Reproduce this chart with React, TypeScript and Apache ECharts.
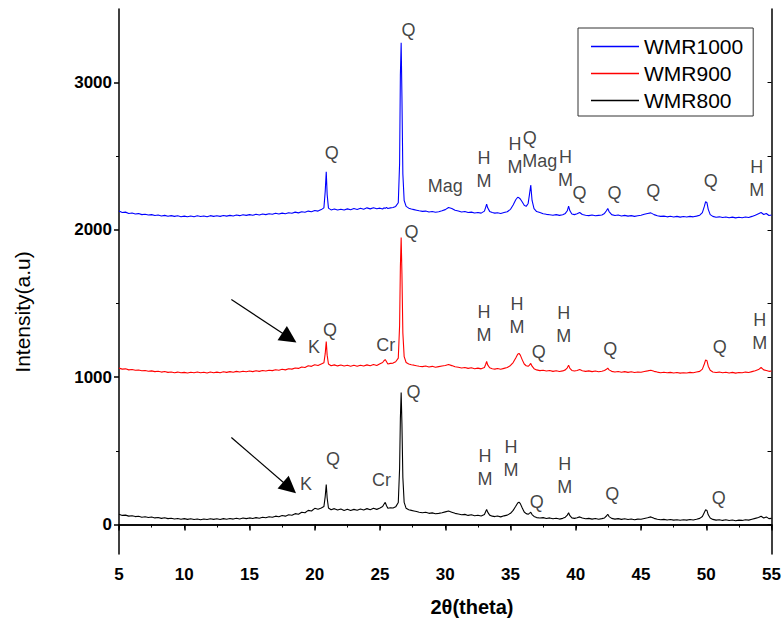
import React, { useEffect, useRef } from "react";
import * as echarts from "echarts";

const twoTheta = [
  5, 5.25, 5.5, 5.75, 6, 6.25, 6.5, 6.75, 7, 7.25,
  7.5, 7.75, 8, 8.25, 8.5, 8.75, 9, 9.25, 9.5, 9.75,
  10, 10.25, 10.5, 10.75, 11, 11.25, 11.5, 11.75, 12, 12.25,
  12.5, 12.75, 13, 13.25, 13.5, 13.75, 14, 14.25, 14.5, 14.75,
  15, 15.25, 15.5, 15.75, 16, 16.25, 16.5, 16.75, 17, 17.25,
  17.5, 17.75, 18, 18.25, 18.5, 18.75, 19, 19.25, 19.5, 19.75,
  20, 20.25, 20.5, 20.7, 20.8, 20.88, 20.95, 21.05, 21.25, 21.5,
  21.75, 22, 22.25, 22.5, 22.75, 23, 23.25, 23.5, 23.75, 24,
  24.25, 24.5, 24.75, 25, 25.2, 25.3, 25.4, 25.5, 25.6, 25.8,
  26, 26.2, 26.4, 26.5, 26.56, 26.62, 26.68, 26.75, 26.85, 27,
  27.2, 27.4, 27.6, 27.8, 28, 28.25, 28.5, 28.75, 29, 29.25,
  29.5, 29.75, 30, 30.25, 30.5, 30.75, 31, 31.25, 31.5, 31.75,
  32, 32.25, 32.5, 32.75, 33, 33.1, 33.17, 33.25, 33.4, 33.6,
  33.8, 34, 34.25, 34.5, 34.75, 35, 35.2, 35.4, 35.55, 35.65,
  35.75, 35.9, 36.05, 36.2, 36.35, 36.45, 36.55, 36.65, 36.8, 37,
  37.25, 37.5, 37.75, 38, 38.25, 38.5, 38.75, 39, 39.2, 39.35,
  39.45, 39.55, 39.7, 39.9, 40.1, 40.3, 40.5, 40.75, 41, 41.25,
  41.5, 41.75, 42, 42.2, 42.35, 42.45, 42.55, 42.75, 43, 43.25,
  43.5, 43.75, 44, 44.25, 44.5, 44.75, 45, 45.25, 45.5, 45.75,
  46, 46.25, 46.5, 46.75, 47, 47.25, 47.5, 47.75, 48, 48.25,
  48.5, 48.75, 49, 49.25, 49.5, 49.7, 49.85, 49.95, 50.05, 50.15,
  50.3, 50.5, 50.75, 51, 51.25, 51.5, 51.75, 52, 52.25, 52.5,
  52.75, 53, 53.25, 53.5, 53.75, 54, 54.2, 54.4, 54.6, 54.8,
  55,
];

const wmr1000 = [
  2128, 2118, 2121, 2112, 2115, 2108, 2111, 2104, 2107, 2101,
  2104, 2098, 2101, 2095, 2099, 2093, 2097, 2092, 2096, 2090,
  2094, 2089, 2095, 2090, 2096, 2091, 2095, 2090, 2097, 2092,
  2096, 2092, 2098, 2094, 2099, 2095, 2101, 2097, 2103, 2099,
  2104, 2100, 2106, 2102, 2108, 2104, 2110, 2106, 2113, 2108,
  2114, 2110, 2117, 2113, 2121, 2116, 2124, 2120, 2128, 2124,
  2132, 2128, 2138, 2150, 2260, 2395, 2240, 2148, 2136, 2142,
  2135, 2141, 2136, 2143, 2137, 2145, 2139, 2147, 2141, 2150,
  2143, 2151, 2144, 2148, 2142, 2150, 2146, 2153, 2145, 2150,
  2152, 2160, 2185, 2450, 3050, 3270, 2900, 2380, 2200, 2160,
  2148, 2142, 2138, 2134, 2130, 2126, 2128, 2122, 2125, 2120,
  2124, 2130, 2138, 2152, 2146, 2134, 2128, 2122, 2125, 2118,
  2121, 2115, 2119, 2114, 2128, 2155, 2175, 2150, 2126, 2118,
  2114, 2117, 2112, 2118, 2124, 2140, 2170, 2205, 2222, 2218,
  2210, 2190, 2168, 2160, 2180, 2240, 2305, 2200, 2145, 2125,
  2118, 2110, 2106, 2103, 2100, 2104, 2099, 2103, 2112, 2130,
  2162, 2130, 2108, 2104, 2110, 2118, 2105, 2100, 2097, 2101,
  2096, 2099, 2102, 2112, 2130, 2146, 2125, 2104, 2098, 2101,
  2095, 2099, 2094, 2097, 2092, 2096, 2100, 2106, 2112, 2116,
  2104, 2096, 2092, 2094, 2089, 2093, 2088, 2092, 2087, 2091,
  2088, 2092, 2089, 2094, 2100, 2118, 2160, 2192, 2185, 2140,
  2104, 2092, 2086, 2089, 2084, 2088, 2083, 2087, 2082, 2086,
  2083, 2088, 2085, 2092, 2100, 2110, 2118, 2105, 2112, 2098,
  2102,
];

const wmr900 = [
  1062, 1055, 1057, 1050, 1053, 1047, 1049, 1044, 1046, 1041,
  1043, 1038, 1041, 1035, 1039, 1033, 1036, 1031, 1035, 1030,
  1033, 1029, 1034, 1030, 1035, 1030, 1034, 1029, 1036, 1031,
  1035, 1031, 1037, 1033, 1038, 1034, 1040, 1036, 1041, 1037,
  1042, 1038, 1044, 1040, 1046, 1042, 1048, 1045, 1051, 1047,
  1054, 1050, 1058, 1055, 1063, 1060, 1070, 1066, 1078, 1074,
  1085, 1080, 1090, 1098, 1160, 1242, 1150, 1090, 1078, 1084,
  1077, 1083, 1076, 1082, 1075, 1081, 1074, 1082, 1076, 1084,
  1078, 1086, 1080, 1092, 1100, 1112, 1120, 1105, 1090, 1094,
  1096, 1105, 1130, 1350, 1750, 1948, 1700, 1300, 1140, 1100,
  1090, 1085, 1082, 1078, 1075, 1072, 1076, 1070, 1074, 1068,
  1072, 1076, 1080, 1086, 1079, 1071, 1068, 1063, 1066, 1060,
  1064, 1058, 1062, 1057, 1066, 1088, 1107, 1084, 1064, 1058,
  1055, 1059, 1054, 1060, 1066, 1080, 1100, 1130, 1156, 1162,
  1150, 1118, 1090, 1078, 1074, 1082, 1094, 1075, 1058, 1050,
  1045, 1048, 1042, 1046, 1040, 1044, 1039, 1043, 1050, 1064,
  1082, 1060, 1046, 1042, 1046, 1052, 1044, 1040, 1043, 1038,
  1042, 1037, 1041, 1046, 1054, 1062, 1050, 1040, 1036, 1039,
  1034, 1038, 1033, 1037, 1032, 1036, 1034, 1039, 1043, 1048,
  1040, 1035, 1031, 1034, 1030, 1033, 1029, 1032, 1028, 1031,
  1029, 1033, 1030, 1035, 1040, 1055, 1090, 1118, 1112, 1075,
  1048, 1036, 1032, 1035, 1030, 1034, 1029, 1033, 1028, 1032,
  1030, 1035, 1032, 1038, 1044, 1052, 1066, 1050, 1046, 1040,
  1042,
];

const wmr800 = [
  70, 62, 64, 57, 60, 54, 56, 50, 53, 48,
  51, 45, 48, 42, 46, 40, 43, 38, 41, 36,
  40, 35, 39, 34, 38, 33, 38, 34, 39, 35,
  39, 34, 40, 36, 41, 37, 43, 38, 44, 40,
  45, 41, 47, 43, 50, 46, 53, 49, 57, 53,
  61, 57, 66, 63, 74, 70, 84, 80, 96, 92,
  110, 104, 112, 122, 190, 272, 180, 112, 100, 108,
  98, 106, 96, 104, 95, 103, 97, 105, 99, 108,
  100, 110, 103, 112, 122, 138, 150, 128, 110, 114,
  112, 120, 150, 380, 720, 896, 680, 320, 150, 110,
  100, 96, 92, 88, 84, 80, 83, 76, 79, 73,
  76, 80, 86, 92, 84, 76, 72, 66, 69, 62,
  66, 60, 63, 58, 68, 88, 102, 84, 64, 57,
  54, 58, 52, 59, 64, 76, 96, 124, 146, 152,
  142, 112, 85, 74, 70, 76, 84, 68, 55, 47,
  44, 47, 41, 45, 39, 43, 37, 42, 50, 64,
  80, 60, 45, 42, 46, 52, 44, 39, 42, 37,
  41, 36, 40, 45, 58, 70, 54, 42, 37, 40,
  35, 39, 34, 38, 33, 37, 36, 41, 46, 52,
  42, 36, 32, 35, 31, 34, 30, 33, 29, 32,
  30, 34, 31, 36, 42, 55, 82, 100, 96, 66,
  44, 35, 30, 33, 28, 32, 27, 31, 26, 30,
  28, 33, 30, 36, 42, 48, 56, 44, 52, 40,
  42,
];

const seriesNames = ["WMR1000", "WMR900", "WMR800"];
const seriesColors = ["#0000ff", "#ff0000", "#000000"];

const xTicks = [5, 10, 15, 20, 25, 30, 35, 40, 45, 50, 55];
const yTickLabels = [0, 1000, 2000, 3000];
const yMinorTicks = [500, 1500, 2500];
const yRightTicks = [0, 500, 1000, 1500, 2000, 2500, 3000];

// phase annotations: [2theta, intensity, text]
const peakLabels1000: [number, number, string][] = [
  [21.31, 2525, "Q"],
  [27.18, 3360, "Q"],
  [30.0, 2301, "Mag"],
  [32.97, 2410, "H\nM"],
  [35.34, 2508, "H\nM"],
  [36.48, 2627, "Q"],
  [37.24, 2471, "Mag"],
  [39.22, 2420, "H\nM"],
  [40.29, 2254, "Q"],
  [42.96, 2254, "Q"],
  [45.93, 2267, "Q"],
  [50.35, 2335, "Q"],
  [53.86, 2349, "H\nM"],
];
const peakLabels900: [number, number, string][] = [
  [19.94, 1202, "K"],
  [21.16, 1324, "Q"],
  [25.43, 1222, "Cr"],
  [27.41, 1989, "Q"],
  [32.97, 1365, "H\nM"],
  [35.49, 1422, "H\nM"],
  [37.16, 1168, "Q"],
  [39.07, 1358, "H\nM"],
  [42.65, 1195, "Q"],
  [51.04, 1208, "Q"],
  [54.09, 1310, "H\nM"],
];
const peakLabels800: [number, number, string][] = [
  [19.33, 272, "K"],
  [21.39, 448, "Q"],
  [25.12, 299, "Cr"],
  [27.56, 903, "Q"],
  [33.05, 384, "H\nM"],
  [35.03, 445, "H\nM"],
  [37.01, 156, "Q"],
  [39.15, 336, "H\nM"],
  [42.8, 210, "Q"],
  [50.96, 183, "Q"],
];

// arrows: [x0, y0, x1, y1]
const arrows: [number, number, number, number][] = [
  [13.61, 1527, 18.05, 1268],
  [13.61, 591, 18.07, 250],
];

const FONT = "Liberation Sans, Arial, Helvetica, sans-serif";

export default function App() {
  const ref = useRef<HTMLDivElement>(null);
  useEffect(() => {
    document.body.style.margin = "0";
    if (!ref.current) return;
    const chart = echarts.init(ref.current, undefined, { renderer: "svg" });
    const values = [wmr1000, wmr900, wmr800];
    const lineSeries = seriesNames.map((name, i) => ({
      name,
      type: "line",
      data: twoTheta.map((x, k) => [x, values[i][k]]),
      symbol: "none",
      showSymbol: false,
      lineStyle: { width: 1.1, color: seriesColors[i] },
      itemStyle: { color: seriesColors[i] },
      z: 3 - i,
    }));
    const allLabels = [...peakLabels1000, ...peakLabels900, ...peakLabels800];
    const option: any = {
      animation: false,
      backgroundColor: "#ffffff",
      textStyle: { fontFamily: FONT },
      grid: { left: 119, right: 9, top: 9, bottom: 70, containLabel: false },
      legend: {
        data: seriesNames.map((n) => ({ name: n, icon: "rect" })),
        orient: "vertical",
        left: 578,
        top: 28,
        backgroundColor: "#ffffff",
        borderColor: "#333333",
        borderWidth: 1,
        padding: [8, 10, 5, 13],
        itemWidth: 48,
        itemHeight: 1.5,
        itemGap: 6,
        textStyle: { fontSize: 21, fontFamily: FONT, color: "#000", lineHeight: 21 },
      },
      xAxis: [
        {
          type: "value",
          min: 5,
          max: 55,
          interval: 5,
          position: "bottom",
          axisLine: { lineStyle: { color: "#000", width: 1.5 } },
          axisTick: { inside: false, length: 6, lineStyle: { color: "#000", width: 1.5 } },
          minorTick: { show: true, splitNumber: 2, length: 3, lineStyle: { color: "#000", width: 1 } },
          axisLabel: {
            fontSize: 17,
            fontWeight: "bold",
            fontFamily: FONT,
            color: "#000",
            margin: 12,
            customValues: xTicks,
            formatter: (v: number) => String(v),
          },
          splitLine: { show: false },
        },
        {
          type: "value",
          min: 5,
          max: 55,
          interval: 5,
          position: "top",
          axisLine: { lineStyle: { color: "#000", width: 1.5 } },
          axisTick: { inside: true, length: 4, lineStyle: { color: "#000", width: 1 } },
          minorTick: { show: true, splitNumber: 2, length: 2, lineStyle: { color: "#000", width: 1 } },
          axisLabel: { show: false },
          splitLine: { show: false },
        },
      ],
      yAxis: [
        {
          type: "value",
          min: -200,
          max: 3500,
          position: "left",
          axisLine: { show: true, lineStyle: { color: "#000", width: 1.5 } },
          axisTick: {
            show: true,
            inside: false,
            length: 5,
            customValues: yTickLabels,
            lineStyle: { color: "#000", width: 1.5 },
          },
          axisLabel: {
            fontSize: 17,
            fontWeight: "bold",
            fontFamily: FONT,
            color: "#000",
            margin: 7,
            customValues: yTickLabels,
            formatter: (v: number) => String(v),
          },
          splitLine: { show: false },
        },
        {
          type: "value",
          min: -200,
          max: 3500,
          position: "left",
          axisLine: { show: false },
          axisTick: {
            show: true,
            inside: false,
            length: 3,
            customValues: yMinorTicks,
            lineStyle: { color: "#000", width: 1 },
          },
          axisLabel: { show: false, customValues: yMinorTicks },
          splitLine: { show: false },
        },
        {
          type: "value",
          min: -200,
          max: 3500,
          position: "right",
          axisLine: { show: true, lineStyle: { color: "#000", width: 1.5 } },
          axisTick: {
            show: true,
            inside: true,
            length: 4,
            customValues: yRightTicks,
            lineStyle: { color: "#000", width: 1 },
          },
          axisLabel: { show: false, customValues: yRightTicks },
          splitLine: { show: false },
        },
      ],
      series: [
        ...lineSeries,
        {
          name: "labels",
          type: "scatter",
          data: allLabels.map(([x, y, t]) => ({ value: [x, y], name: t })),
          symbolSize: 1,
          itemStyle: { color: "rgba(0,0,0,0)" },
          label: {
            show: true,
            position: "inside",
            formatter: "{b}",
            fontSize: 18,
            fontFamily: FONT,
            color: "#111111",
            lineHeight: 23,
            align: "center",
            verticalAlign: "middle",
          },
          silent: true,
          z: 5,
        },
        {
          name: "arrows",
          type: "line",
          data: [],
          silent: true,
          markLine: {
            silent: true,
            symbol: ["none", "triangle"],
            symbolSize: 17,
            label: { show: false },
            lineStyle: { color: "#000", width: 1.2, type: "solid" },
            itemStyle: { color: "#000" },
            data: arrows.map(([x0, y0, x1, y1]) => [
              { coord: [x0, y0] },
              { coord: [x1, y1] },
            ]),
          },
        },
      ],
      graphic: [
        {
          type: "text",
          x: 472,
          y: 607,
          style: {
            text: "2θ(theta)",
            font: `bold 20px ${FONT}`,
            fill: "#000",
            textAlign: "center",
            textVerticalAlign: "middle",
          },
        },
        {
          type: "text",
          x: 22,
          y: 312,
          rotation: Math.PI / 2,
          style: {
            text: "Intensity(a.u)",
            font: `21px ${FONT}`,
            fill: "#000",
            textAlign: "center",
            textVerticalAlign: "middle",
          },
        },
      ],
    };
    chart.setOption(option);
    return () => chart.dispose();
  }, []);
  return <div ref={ref} style={{ width: 784, height: 624 }} />;
}
